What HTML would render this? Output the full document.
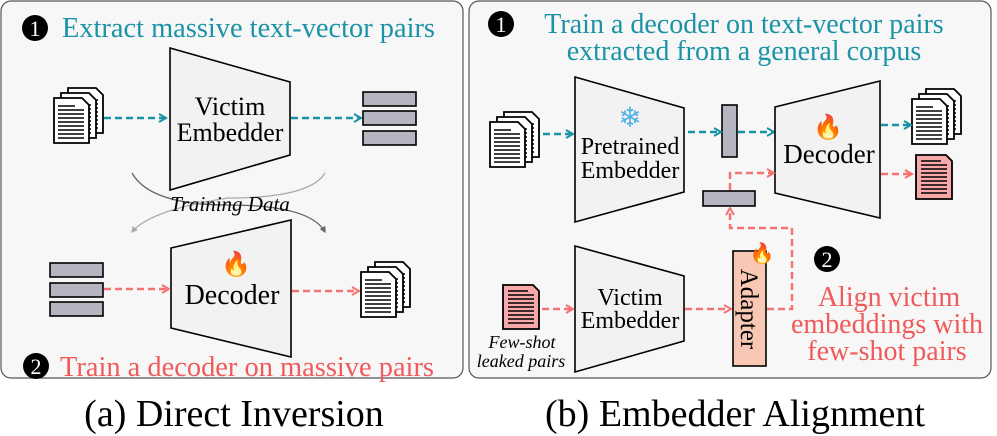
<!DOCTYPE html>
<html><head><meta charset="utf-8"><style>
html,body{margin:0;padding:0;background:#fff;}
svg{display:block;}
</style></head><body>
<svg width="997" height="436" viewBox="0 0 997 436" xmlns="http://www.w3.org/2000/svg" font-family="Liberation Serif, serif">
<defs>
<marker id="at" viewBox="0 0 10 10" refX="8" refY="5" markerWidth="4" markerHeight="4" orient="auto"><path d="M1,1 L8,5 L1,9" fill="none" stroke="#1b93a6" stroke-width="2"/></marker>
<marker id="ap" viewBox="0 0 10 10" refX="8" refY="5" markerWidth="4" markerHeight="4" orient="auto"><path d="M1,1 L8,5 L1,9" fill="none" stroke="#f47272" stroke-width="2"/></marker>
<marker id="ag" viewBox="0 0 10 10" refX="8" refY="5" markerWidth="5" markerHeight="5" orient="auto"><path d="M0,0 L10,5 L0,10z" fill="#666"/></marker>
<marker id="al" viewBox="0 0 10 10" refX="8" refY="5" markerWidth="5" markerHeight="5" orient="auto"><path d="M0,0 L10,5 L0,10z" fill="#aaa"/></marker>
<g id="doc">
<path d="M0,0 h28 l7,7 v38 h-35z" fill="#fff" stroke="#000" stroke-width="1.8"/>
<path d="M4,8h17M4,12h26M4,16h26M4,20h26M4,24h26M4,28h26M4,32h26M4,36h26M4,40h26" stroke="#000" stroke-width="1.5"/>
</g>
<g id="pdoc">
<path d="M0,0 h30 l6,6 v38 h-36z" fill="#f7a8a8" stroke="#000" stroke-width="1.8"/>
<path d="M5,6h20M5,10h26M5,14h26M5,18h26M5,22h26M5,26h26M5,30h26M5,34h26M5,38h26" stroke="#000" stroke-width="1.5"/>
</g>
<g id="stack"><use href="#doc" x="14" y="0"/><use href="#doc" x="7" y="5"/><use href="#doc" x="0" y="10"/></g>
</defs>
<rect x="1" y="1" width="462" height="377" rx="10" fill="#f7f7f7" stroke="#555" stroke-width="1.2"/>
<rect x="469" y="1" width="522" height="377" rx="10" fill="#f7f7f7" stroke="#555" stroke-width="1.2"/>

<!-- left -->
<circle cx="35" cy="28" r="13" fill="#000"/><text x="35" y="36" font-size="22" fill="#fff" text-anchor="middle">1</text>
<text x="62" y="37" font-size="28.5" fill="#1b93a6" textLength="373" lengthAdjust="spacingAndGlyphs">Extract massive text-vector pairs</text>
<polygon points="170,48 290,82 290,155 170,190" fill="#f2f2f2" stroke="#000" stroke-width="1.6"/>
<text x="230" y="115" font-size="26" text-anchor="middle">Victim</text>
<text x="230" y="141" font-size="26" text-anchor="middle">Embedder</text>
<use href="#stack" x="54" y="88"/>
<line x1="104" y1="118" x2="166" y2="118" stroke="#1b93a6" stroke-width="2.5" stroke-dasharray="7,4" marker-end="url(#at)"/>
<line x1="291" y1="118" x2="361" y2="118" stroke="#1b93a6" stroke-width="2.5" stroke-dasharray="7,4" marker-end="url(#at)"/>
<g fill="#b5b5c2" stroke="#000" stroke-width="1.6"><rect x="363" y="92" width="53" height="14"/><rect x="363" y="111" width="53" height="14"/><rect x="363" y="131" width="53" height="14"/></g>
<path d="M132,173 Q150,205 228,205 Q310,205 325,232" fill="none" stroke="#666" stroke-width="1.3" marker-end="url(#ag)"/>
<path d="M325,173 Q310,198 228,198 Q150,210 132,232" fill="none" stroke="#aaa" stroke-width="1.3" marker-end="url(#al)"/>
<text x="230" y="211" font-size="21" font-style="italic" text-anchor="middle">Training Data</text>
<polygon points="171,248 291,220 291,357 171,328" fill="#f2f2f2" stroke="#000" stroke-width="1.6"/>
<text x="236" y="272" font-size="24" text-anchor="middle">🔥</text>
<text x="232" y="304" font-size="28" text-anchor="middle">Decoder</text>
<g fill="#b5b5c2" stroke="#000" stroke-width="1.6"><rect x="50" y="263" width="53" height="14"/><rect x="50" y="283" width="53" height="14"/><rect x="50" y="302" width="53" height="14"/></g>
<line x1="104" y1="289" x2="169" y2="289" stroke="#f47272" stroke-width="2.5" stroke-dasharray="7,4" marker-end="url(#ap)"/>
<line x1="292" y1="291" x2="359" y2="291" stroke="#f47272" stroke-width="2.5" stroke-dasharray="7,4" marker-end="url(#ap)"/>
<use href="#stack" x="361" y="262"/>
<circle cx="36" cy="366" r="13" fill="#000"/><text x="36" y="374" font-size="22" fill="#fff" text-anchor="middle">2</text>
<text x="60" y="376" font-size="28.5" fill="#f05a5a" textLength="374" lengthAdjust="spacingAndGlyphs">Train a decoder on massive pairs</text>
<text x="234" y="426" font-size="38" text-anchor="middle">(a) Direct Inversion</text>

<!-- right -->
<circle cx="501" cy="24" r="13" fill="#000"/><text x="501" y="32" font-size="22" fill="#fff" text-anchor="middle">1</text>
<text x="744" y="33" font-size="28" fill="#1b93a6" text-anchor="middle">Train a decoder on text-vector pairs</text>
<text x="744" y="60" font-size="28" fill="#1b93a6" text-anchor="middle">extracted from a general corpus</text>
<polygon points="575,77 684,108 684,192 575,222" fill="#f2f2f2" stroke="#000" stroke-width="1.6"/>
<text x="630" y="127" font-size="28" fill="#4fb2e8" text-anchor="middle">❄</text>
<text x="630" y="154" font-size="24" text-anchor="middle">Pretrained</text>
<text x="630" y="178" font-size="24" text-anchor="middle">Embedder</text>
<use href="#stack" x="490" y="112"/>
<line x1="543" y1="134" x2="573" y2="134" stroke="#1b93a6" stroke-width="2.5" stroke-dasharray="7,4" marker-end="url(#at)"/>
<rect x="722" y="105" width="15" height="52" fill="#b5b5c2" stroke="#000" stroke-width="1.6"/>
<line x1="688" y1="132" x2="721" y2="132" stroke="#1b93a6" stroke-width="2.5" stroke-dasharray="7,4" marker-end="url(#at)"/>
<line x1="738" y1="132" x2="774" y2="132" stroke="#1b93a6" stroke-width="2.5" stroke-dasharray="7,4" marker-end="url(#at)"/>
<polygon points="775,107 880,81 880,218 775,193" fill="#f2f2f2" stroke="#000" stroke-width="1.6"/>
<text x="828" y="135" font-size="24" text-anchor="middle">🔥</text>
<text x="829" y="163" font-size="27" text-anchor="middle">Decoder</text>
<use href="#stack" x="912" y="89"/>
<line x1="881" y1="125" x2="911" y2="125" stroke="#1b93a6" stroke-width="2.5" stroke-dasharray="7,4" marker-end="url(#at)"/>
<use href="#pdoc" x="916" y="155"/>
<line x1="881" y1="174" x2="912" y2="174" stroke="#f47272" stroke-width="2.5" stroke-dasharray="7,4" marker-end="url(#ap)"/>
<rect x="703" y="191" width="52" height="15" fill="#b5b5c2" stroke="#000" stroke-width="1.6"/>
<path d="M730,190 V173 H774" fill="none" stroke="#f47272" stroke-width="2.5" stroke-dasharray="7,4" marker-end="url(#ap)"/>
<path d="M767,309 H792 V228 H730 V208" fill="none" stroke="#f47272" stroke-width="2.5" stroke-dasharray="7,4" marker-end="url(#ap)"/>
<polygon points="575,246 684,276 684,341 575,372" fill="#f2f2f2" stroke="#000" stroke-width="1.6"/>
<text x="630" y="305" font-size="24" text-anchor="middle">Victim</text>
<text x="630" y="328" font-size="24" text-anchor="middle">Embedder</text>
<use href="#pdoc" x="503" y="285"/>
<text x="522" y="348" font-size="18" font-style="italic" text-anchor="middle">Few-shot</text>
<text x="521" y="367" font-size="18" font-style="italic" text-anchor="middle">leaked pairs</text>
<line x1="542" y1="309" x2="573" y2="309" stroke="#f47272" stroke-width="2.5" stroke-dasharray="7,4" marker-end="url(#ap)"/>
<line x1="685" y1="309" x2="731" y2="309" stroke="#f47272" stroke-width="2.5" stroke-dasharray="7,4" marker-end="url(#ap)"/>
<rect x="733" y="251" width="33" height="115" fill="#f8c8b4" stroke="#000" stroke-width="1.6"/>
<text transform="translate(741,309) rotate(90)" font-size="25" text-anchor="middle">Adapter</text>
<text x="762" y="260" font-size="20" text-anchor="middle">🔥</text>
<circle cx="827" cy="259" r="13" fill="#000"/><text x="827" y="267" font-size="22" fill="#fff" text-anchor="middle">2</text>
<text x="889" y="306" font-size="28" fill="#f05a5a" text-anchor="middle">Align victim</text>
<text x="887" y="333" font-size="28" fill="#f05a5a" text-anchor="middle">embeddings with</text>
<text x="887" y="360" font-size="28" fill="#f05a5a" text-anchor="middle">few-shot pairs</text>
<text x="735" y="426" font-size="38" text-anchor="middle">(b) Embedder Alignment</text>
</svg>
</body></html>
